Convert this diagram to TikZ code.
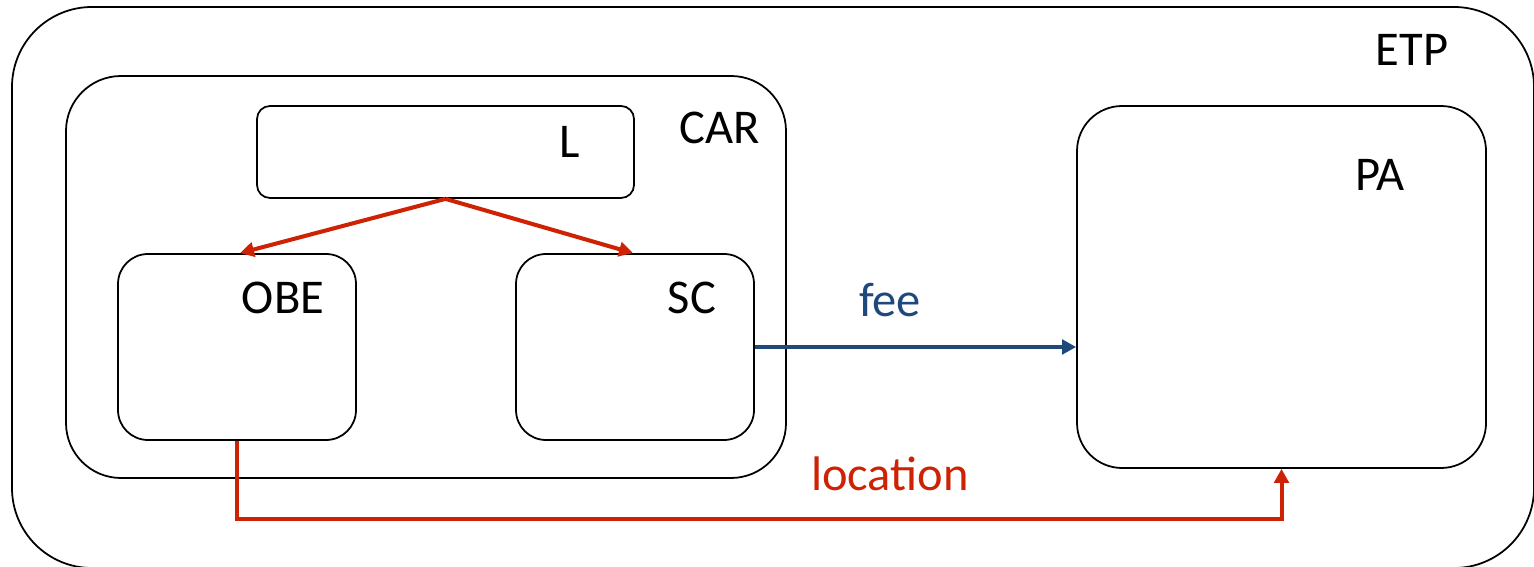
\documentclass[tikz,border=0pt]{standalone}
\usepackage{fontspec}
\setmainfont{Carlito}
\usetikzlibrary{arrows.meta,calc}
\definecolor{flowred}{RGB}{206,34,4}
\definecolor{flowblue}{RGB}{31,73,125}

\begin{document}
\begin{tikzpicture}[
    tag/.style={font=\fontsize{13.8}{16}\selectfont, inner sep=0pt},
    unit/.style={draw, line width=0.5pt, inner sep=0pt},
    flow/.style={line width=1.15pt, -{Triangle[length=1.4mm, width=1.45mm]}},
  ]

  \useasboundingbox (0,0) rectangle (15.34,5.66);

  % enclosing domains
  \node[unit, rounded corners=0.8cm, minimum width=15.22cm, minimum height=5.61cm]
    (etp) at (7.73,2.785) {};
  \node[unit, rounded corners=0.55cm, minimum width=7.20cm, minimum height=4.02cm]
    (car) at (4.26,2.89) {};

  % components
  \node[unit, rounded corners=0.13cm, minimum width=3.77cm, minimum height=0.92cm]
    (l) at (4.455,4.14) {};
  \node[unit, rounded corners=0.30cm, minimum width=2.38cm, minimum height=1.86cm]
    (obe) at (2.37,2.19) {};
  \node[unit, rounded corners=0.30cm, minimum width=2.38cm, minimum height=1.86cm]
    (sc) at (6.35,2.19) {};
  \node[unit, rounded corners=0.45cm, minimum width=4.09cm, minimum height=3.62cm]
    (pa) at (12.815,2.79) {};

  % names
  \node[tag] (etpname) at (14.12,5.16) {ETP};
  \node[tag] (carname) at (7.20,4.38) {CAR};
  \node[tag] (lname)   at (5.70,4.24) {L};
  \node[tag] (obename) at (2.83,2.68) {OBE};
  \node[tag] (scname)  at (6.92,2.68) {SC};
  \node[tag] (paname)  at (13.80,3.91) {PA};

  % flows
  \draw[flow, flowred] (l.south) -- ($(obe.north)+(0.03,0)$);
  \draw[flow, flowred] (l.south) -- ($(sc.north)+(-0.02,0)$);
  \draw[flow, flowblue] (sc.east) -- (sc.east -| pa.west);
  \draw[flow, flowred] (obe.south) -- ++(0,-0.78) -| (pa.south);

  \node[tag, flowblue] (fee) at (8.90,2.66) {fee};
  \node[tag, flowred] (location) at (8.90,0.92) {location};

\end{tikzpicture}
\end{document}
